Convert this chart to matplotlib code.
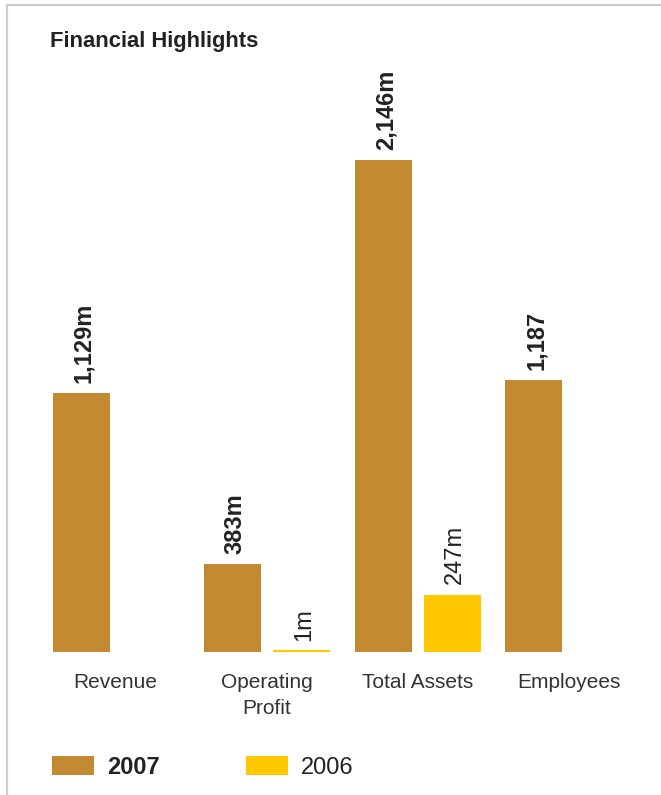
import matplotlib
matplotlib.use("Agg")
import matplotlib.pyplot as plt
import numpy as np
from matplotlib.lines import Line2D

plt.rcParams['font.family'] = ['Liberation Sans', 'DejaVu Sans']

categories = ["Revenue", "Operating\nProfit", "Total Assets", "Employees"]
values_2007 = [1129, 383, 2146, 1187]
values_2006 = [np.nan, 1, 247, np.nan]
labels_2007 = ["1,129m", "383m", "2,146m", "1,187"]
labels_2006 = ["", "1m", "247m", ""]
series_names = ["2007", "2006"]

C2007 = "#C48A32"
C2006 = "#FFC800"
TXT = "#222222"

W, H = 661, 795
fig = plt.figure(figsize=(W / 100, H / 100), dpi=100)
fig.patch.set_facecolor("white")

# axes placement in pixels
ax_left, ax_right = 20, 640
ax_bottom, ax_top = 652, 100
ax = fig.add_axes([ax_left / W, 1 - ax_bottom / H, (ax_right - ax_left) / W, (ax_bottom - ax_top) / H])

spacing = 151.0
g0 = 115.5
ax.set_xlim((ax_left - g0) / spacing, (ax_right - g0) / spacing)
scale = 492 / 2146.0
ax.set_ylim(0, (ax_bottom - ax_top) / scale)

x = np.arange(len(categories))
bw = 57 / spacing
off = 34.5 / spacing

b1 = ax.bar(x - off, values_2007, width=bw, color=C2007, linewidth=0)
lw06 = [3.0 if (not np.isnan(v) and v < 20) else 0 for v in values_2006]
b2 = ax.bar(x + off, values_2006, width=bw, color=C2006, edgecolor=C2006, linewidth=lw06)

for xi, v, lab in zip(x - off, values_2007, labels_2007):
    ax.annotate(lab, (xi, v), xytext=(2, 7), textcoords="offset points",
                rotation=90, ha="center", va="bottom", fontsize=17,
                fontweight="bold", color=TXT)
for xi, v, lab in zip(x + off, values_2006, labels_2006):
    if lab and not np.isnan(v):
        ax.annotate(lab, (xi, v), xytext=(2, 8), textcoords="offset points",
                    rotation=90, ha="center", va="bottom", fontsize=17,
                    fontweight="normal", color=TXT)

ax.set_xticks(x)
ax.set_xticklabels(categories, fontsize=15, color="#333333", linespacing=1.45)
ax.tick_params(axis="x", length=0, pad=15)
ax.set_yticks([])
for s in ax.spines.values():
    s.set_visible(False)

fig.text(50 / W, 1 - 42 / H, "Financial Highlights", fontsize=15.8, fontweight="bold",
         color=TXT, ha="left", va="center")

# frame (top and left)
fig.add_artist(Line2D([7 / W, 1], [1 - 5 / H, 1 - 5 / H], color="#cccccc", lw=1.6))
fig.add_artist(Line2D([7 / W, 7 / W], [0, 1 - 5 / H], color="#cccccc", lw=1.6))

leg = fig.legend([b1, b2], series_names, loc="center left",
                 bbox_to_anchor=(52 / W, 1 - 767 / H), ncol=2, frameon=False,
                 fontsize=17, handlelength=1.78, handleheight=0.85,
                 handletextpad=0.55, columnspacing=3.65, borderpad=0, borderaxespad=0)
for i, t in enumerate(leg.get_texts()):
    t.set_color(TXT)
    if i == 0:
        t.set_fontweight("bold")

fig.savefig("out.png", dpi=100, facecolor="white")
